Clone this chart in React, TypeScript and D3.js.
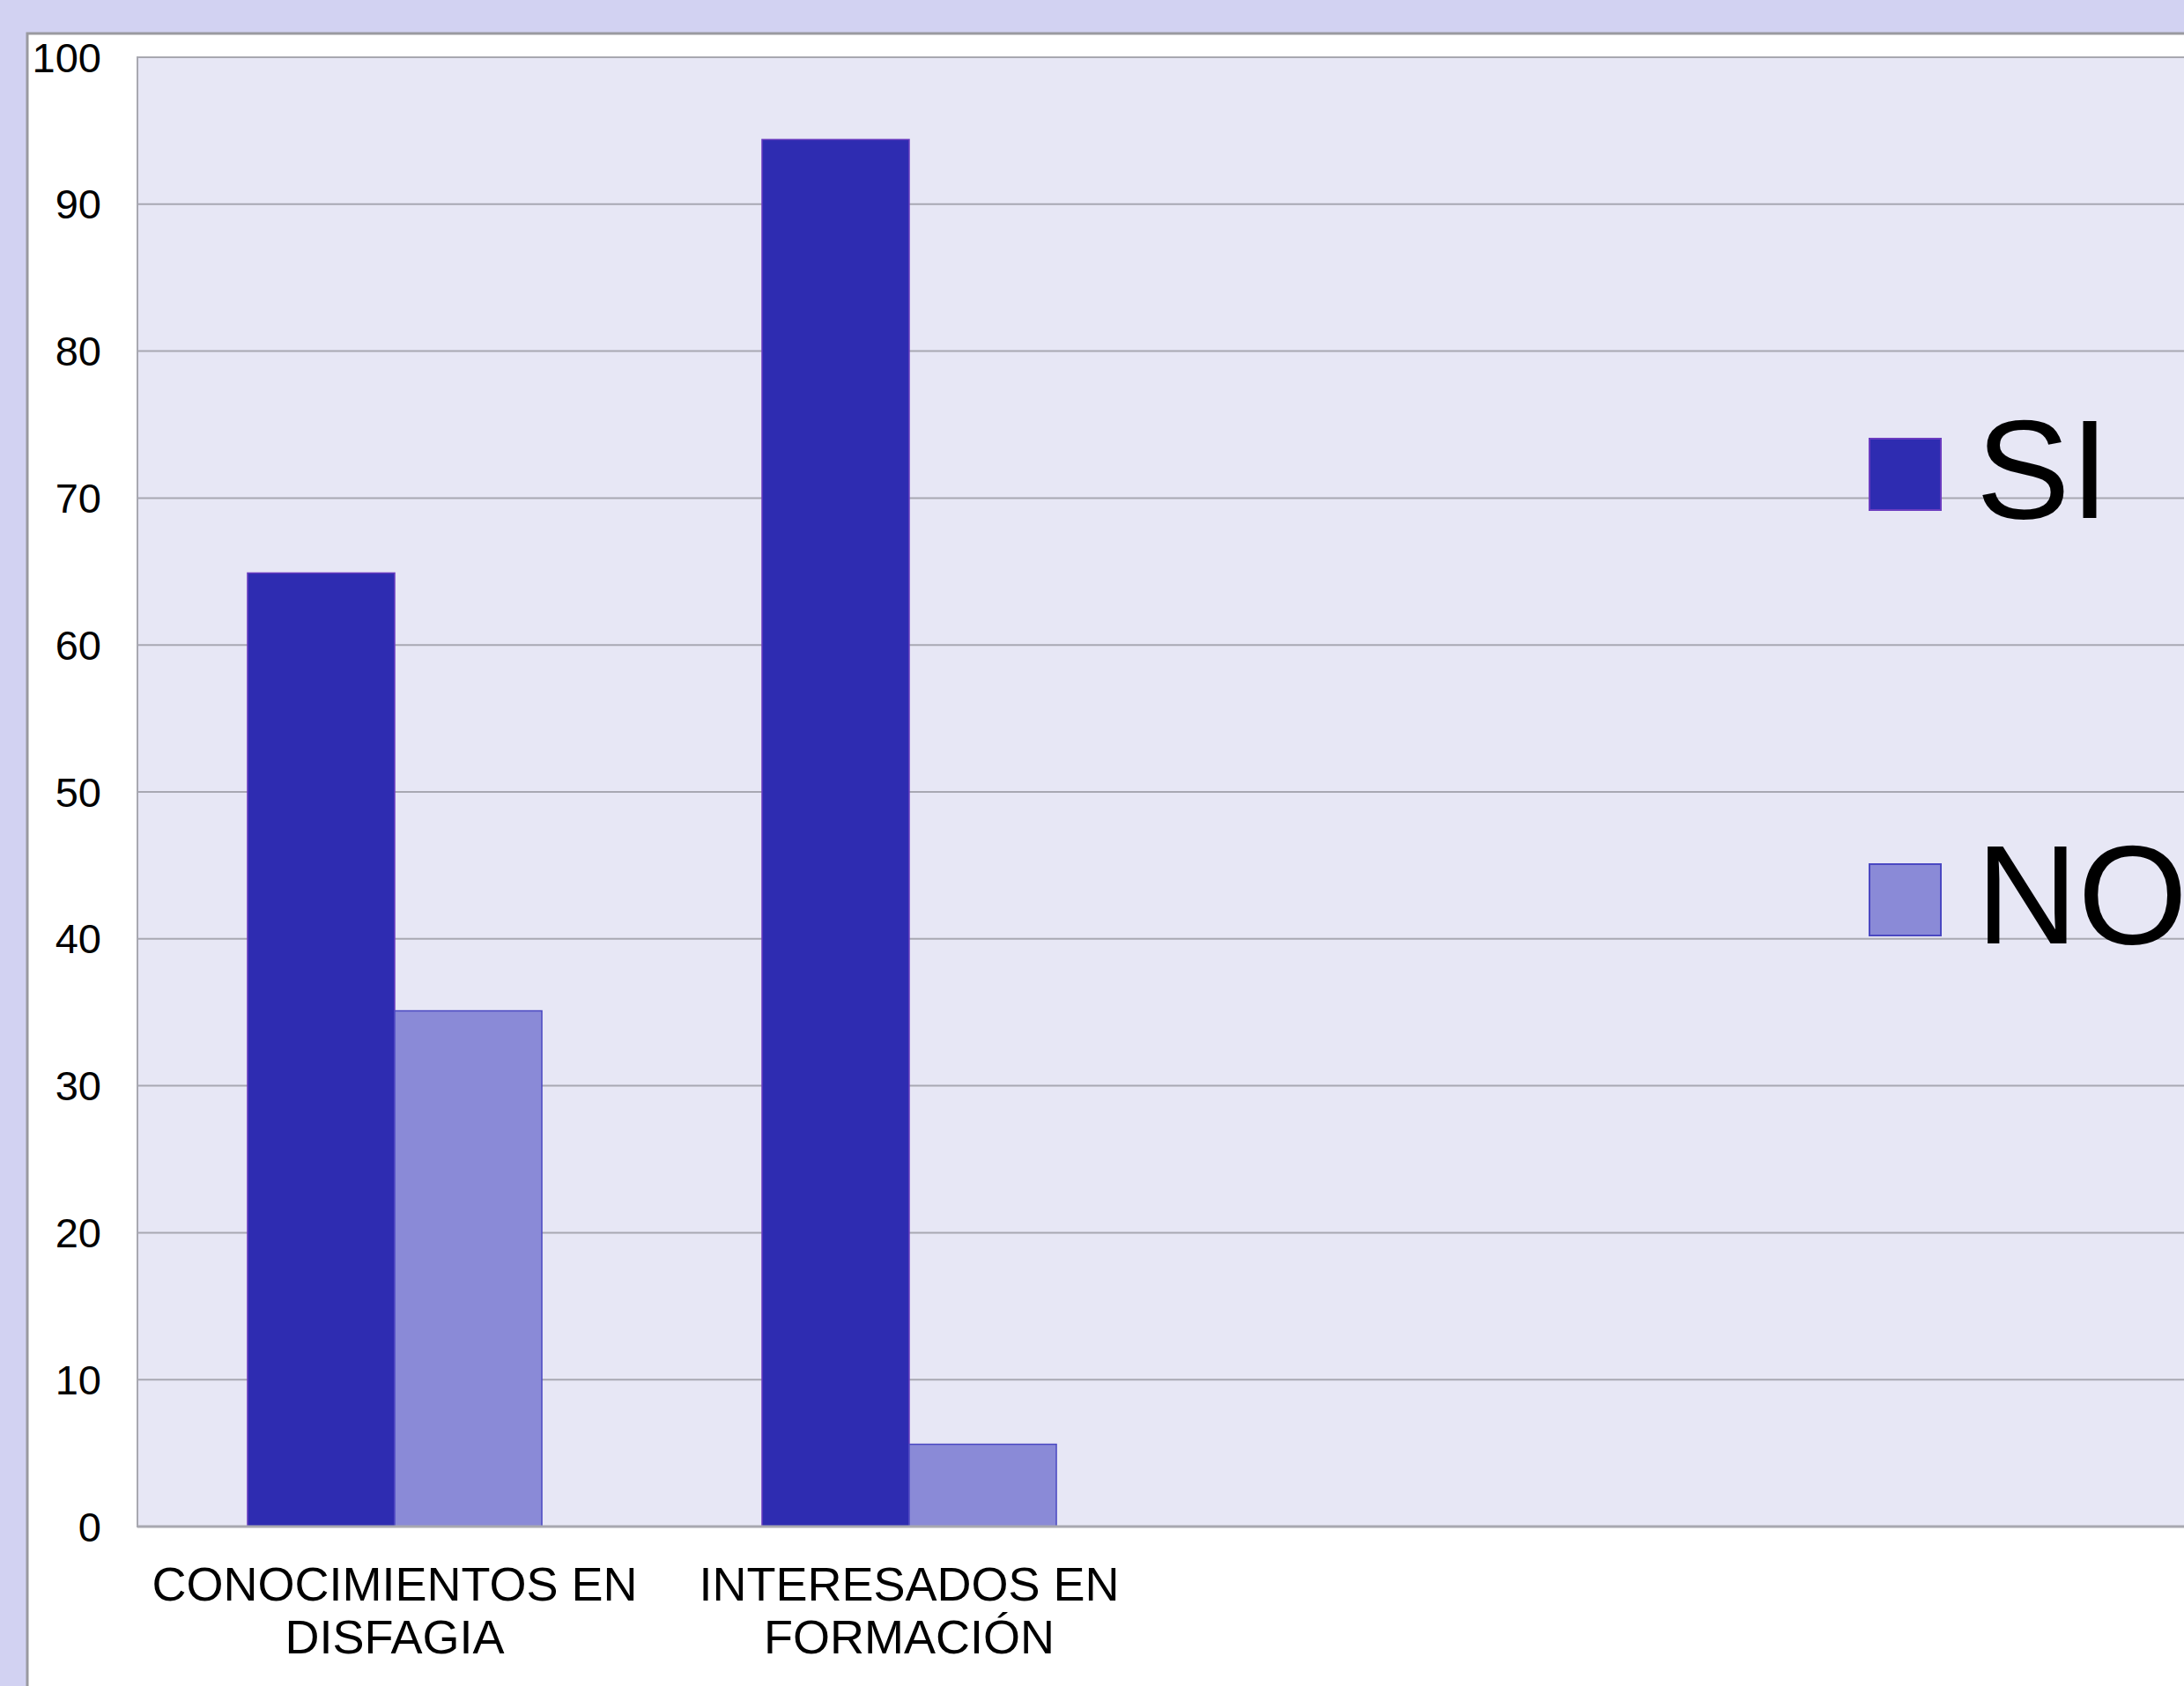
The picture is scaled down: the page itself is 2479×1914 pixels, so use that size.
import * as d3 from "d3";
import * as React from "react";

const categories = ["CONOCIMIENTOS EN\nDISFAGIA", "INTERESADOS EN\nFORMACIÓN"];
const seriesNames = ["SI", "NO"];
const siValues = [64.9, 94.4];
const noValues = [35.1, 5.6];
const yTicks = [0, 10, 20, 30, 40, 50, 60, 70, 80, 90, 100];

const colors = ["#2e2cb1", "#8a8ad7"];
const strokes = ["#6a3cc0", "#4a48c2"];

export default function App() {
  const width = 2479;
  const height = 1914;
  const plotLeft = 156;
  const plotTop = 65;
  const plotBottom = 1733;

  const y = d3.scaleLinear([0, 100], [plotBottom, plotTop]);
  const x0 = d3
    .scaleBand<string>()
    .domain(categories)
    .range([plotLeft, plotLeft + 584 * 2])
    .paddingInner(0.428)
    .paddingOuter(0.214);
  const x1 = d3.scaleBand<string>().domain(seriesNames).range([0, x0.bandwidth()]);

  const values = [siValues, noValues];
  const font = "'Liberation Sans', Arial, sans-serif";

  return (
    <svg
      width={width}
      height={height}
      viewBox={`0 0 ${width} ${height}`}
      style={{ position: "absolute", left: 0, top: 0, display: "block" }}
      fontFamily={font}
    >
      <rect x={0} y={0} width={width} height={height} fill="#d2d2f2" />
      {/* white chart panel */}
      <rect x={31} y={38} width={width} height={height} fill="#ffffff" stroke="#9a9aa0" strokeWidth={3} />
      {/* plot area */}
      <rect x={plotLeft} y={plotTop} width={width} height={plotBottom - plotTop} fill="#e7e7f5" stroke="#a8a8b0" strokeWidth={2} />

      {yTicks.slice(1, -1).map((t) => (
        <line key={t} x1={plotLeft} x2={width} y1={y(t)} y2={y(t)} stroke="#a8a8b2" strokeWidth={2} />
      ))}

      {yTicks.map((t) => (
        <text key={t} x={115} y={y(t)} textAnchor="end" dominantBaseline="central" fontSize={47} fill="#000">
          {t}
        </text>
      ))}

      {categories.map((c, i) =>
        seriesNames.map((s, j) => {
          const bx = (x0(c) ?? 0) + (x1(s) ?? 0);
          const v = values[j][i];
          return (
            <rect
              key={c + s}
              x={bx}
              y={y(v)}
              width={x1.bandwidth()}
              height={plotBottom - y(v)}
              fill={colors[j]}
              stroke={strokes[j]}
              strokeWidth={1.5}
            />
          );
        })
      )}

      <line x1={plotLeft} x2={width} y1={plotBottom} y2={plotBottom} stroke="#a8a8b0" strokeWidth={3} />

      {categories.map((c) => {
        const cx = (x0(c) ?? 0) + x0.bandwidth() / 2;
        return (
          <text key={c} x={cx} y={1817} textAnchor="middle" fontSize={54} fill="#000">
            {c.split("\n").map((line, k) => (
              <tspan key={k} x={cx} dy={k === 0 ? 0 : 60}>
                {line}
              </tspan>
            ))}
          </text>
        );
      })}

      {seriesNames.map((s, j) => {
        const ly = [538, 1021][j];
        return (
          <g key={s}>
            <rect x={2122} y={ly - 40} width={81} height={81} fill={colors[j]} stroke={strokes[j]} strokeWidth={2} />
            <text x={2243} y={ly + 50} fontSize={160} fill="#000">
              {s}
            </text>
          </g>
        );
      })}
    </svg>
  );
}
